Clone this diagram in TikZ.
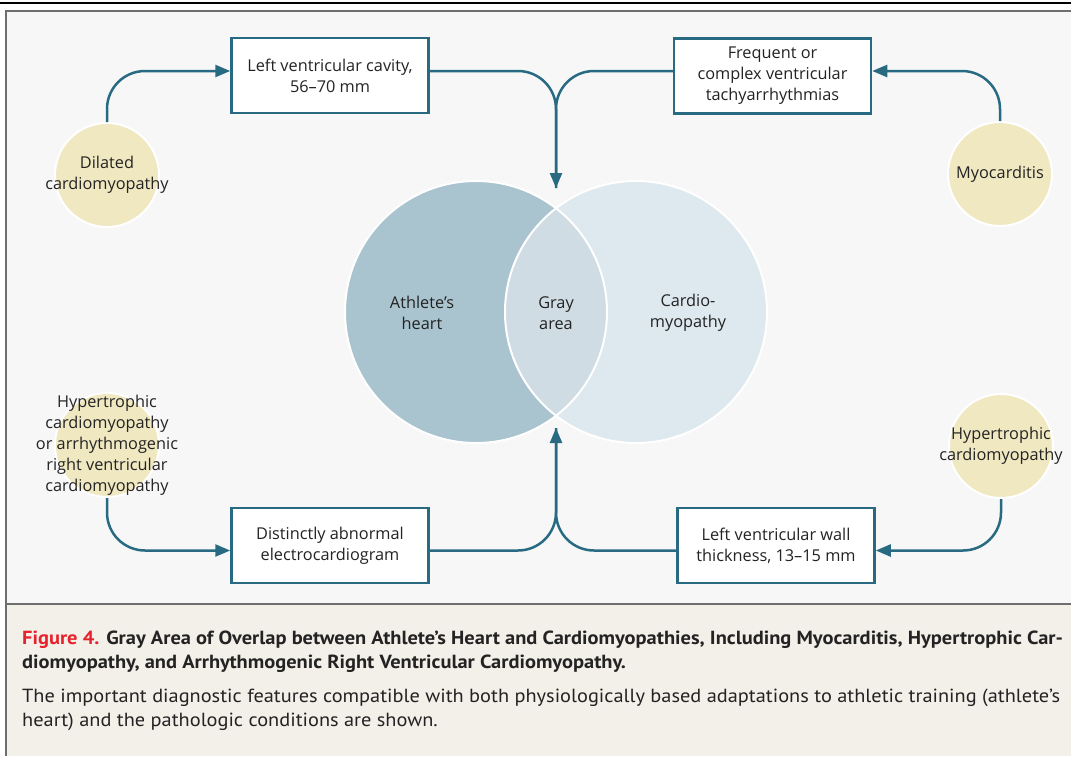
\documentclass[tikz,border=0pt]{standalone}
\usepackage{fontspec}
\setmainfont{Open Sans}
\newfontfamily\capfont[FakeStretch=1.071,BoldFeatures={FakeStretch=1.076}]{PT Sans}
\usepackage{tikz}
\usetikzlibrary{arrows.meta,positioning,calc}

\definecolor{panelbg}{RGB}{247,247,247}
\definecolor{capbg}{RGB}{243,239,233}
\definecolor{framec}{RGB}{110,110,110}
\definecolor{athl}{RGB}{169,195,207}
\definecolor{cardio}{RGB}{221,232,239}
\definecolor{grayarea}{RGB}{208,220,227}
\definecolor{causef}{RGB}{240,232,193}
\definecolor{linec}{RGB}{40,106,130}
\definecolor{txt}{RGB}{35,35,35}
\definecolor{figred}{RGB}{230,35,45}

\begin{document}
\begin{tikzpicture}[x=1pt,y=-1pt,>={Triangle[length=15pt,width=12pt]},
	font=\fontsize{16.3}{21}\selectfont,text=txt,
	box/.style={rectangle,draw=linec,line width=2.5pt,fill=white,minimum width=197pt,minimum height=75pt,align=center},
	cause/.style={circle,fill=causef,draw=white,line width=2pt,minimum size=104pt,inner sep=0pt,
		label={[align=center,text=txt]center:#1}},
	link/.style={draw=linec,line width=2.5pt,rounded corners=38pt},
	caption/.style={anchor=base west,inner sep=0pt,font=\capfont\fontsize{19}{22}\selectfont}]
	\useasboundingbox (0,0) rectangle (1071,756);

	% frame and caption panel
	\fill[white] (0,0) rectangle (1071,756);
	\fill[panelbg] (6,11) rectangle (1071,604);
	\fill[capbg] (6,604) rectangle (1071,756);
	\draw[black,line width=1.2pt] (0,3) -- (1071,3);
	\draw[framec,line width=2pt] (1071,11) -- (6,11) -- (6,756);
	\draw[framec,line width=2pt] (6,604) -- (1071,604);

	% venn
	\fill[athl] (476,312) circle (131pt);
	\fill[cardio] (636,312) circle (131pt);
	\begin{scope}
		\clip (476,312) circle (131pt);
		\fill[grayarea] (636,312) circle (131pt);
	\end{scope}
	\draw[white,line width=2pt] (476,312) circle (131pt) (636,312) circle (131pt);
	\node[align=center] (ath) at (422,313) {Athlete’s\\heart};
	\node[align=center] (gray) at (556,313) {Gray\\area};
	\node[align=center] (cm) at (688,313) {Cardio-\\myopathy};
	\coordinate (intop) at (556,188);
	\coordinate (inbot) at (556,428);

	\node[box] (lvc) at (330,75.5) {Left ventricular cavity,\\56–70 mm};
	\node[box] (vt) at (772.5,76) {Frequent or\\complex ventricular\\tachyarrhythmias};
	\node[box] (ecg) at (330,545.5) {Distinctly abnormal\\electrocardiogram};
	\node[box] (lvw) at (776,545.5) {Left ventricular wall\\thickness, 13–15 mm};

	\node[cause={Dilated\\cardiomyopathy}] (dcm) at (107,175) {};
	\node[cause={Myocarditis}] (myo) at (1000,174) {};
	\node[cause={Hypertrophic\\cardiomyopathy\\or arrhythmogenic\\right ventricular\\cardiomyopathy}] (hcma) at (107,445) {};
	\node[cause={Hypertrophic\\cardiomyopathy}] (hcm) at (1001,446) {};

	\draw[link,->] (dcm.north) |- ([yshift=4.5pt]lvc.west);
	\draw[link,->] ([yshift=4.5pt]lvc.east) -| (intop);
	\draw[link] ([yshift=5pt]vt.west) -| (intop);
	\draw[link,->] (myo.north) |- ([yshift=5pt]vt.east);

	\draw[link,->] (hcma.south) |- ([yshift=-5pt]ecg.west);
	\draw[link,->] ([yshift=-5pt]ecg.east) -| (inbot);
	\draw[link] ([yshift=-5pt]lvw.west) -| (inbot);
	\draw[link,->] (hcm.south) |- ([yshift=-5pt]lvw.east);

	% caption
	\node[caption] (cap1) at (22,644) {\bfseries{\color{figred}Figure 4.} Gray Area of Overlap between Athlete’s Heart and Cardiomyopathies, Including Myocarditis, Hypertrophic Car-};
	\node[caption] (cap2) at (22,668) {\bfseries diomyopathy, and Arrhythmogenic Right Ventricular Cardiomyopathy.};
	\node[caption] (cap3) at (22,702) {The important diagnostic features compatible with both physiologically based adaptations to athletic training (athlete’s};
	\node[caption] (cap4) at (22,726) {heart) and the pathologic conditions are shown.};
\end{tikzpicture}
\end{document}
